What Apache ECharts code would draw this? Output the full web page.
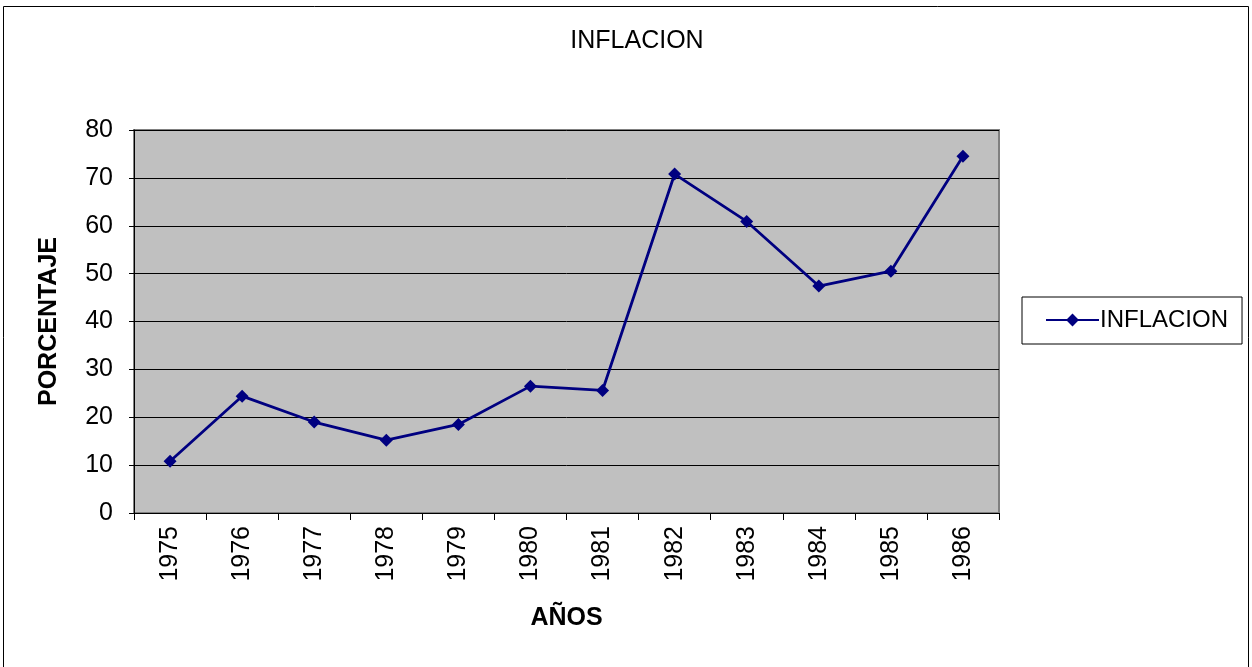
<!DOCTYPE html>
<html><head><meta charset="utf-8">
<script src="https://cdn.jsdelivr.net/npm/echarts@6/dist/echarts.min.js"></script>
<style>html,body{margin:0;padding:0;background:#fff}#c{width:1252px;height:667px}</style>
</head><body><div id="c"></div>
<script>
const years = ['1975','1976','1977','1978','1979','1980','1981','1982','1983','1984','1985','1986'];
const inflacion = [10.8, 24.4, 19.0, 15.2, 18.5, 26.5, 25.6, 70.8, 60.9, 47.4, 50.5, 74.5];
const seriesName = 'INFLACION';
const chartTitle = 'INFLACION';
const xName = 'AÑOS';
const yName = 'PORCENTAJE';

const font = '"Liberation Sans", Arial, sans-serif';
const chart = echarts.init(document.getElementById('c'));
chart.setOption({
  animation: false,
  backgroundColor: '#fff',
  graphic: [{type:'rect', shape:{x:3.5,y:6.5,width:1245,height:670}, style:{fill:'none', stroke:'#000', lineWidth:1}, silent:true}],
  title: {text: chartTitle, left: 632, textAlign: 'center', top: 24, textStyle:{fontFamily:font, fontSize:25, fontWeight:'normal', color:'#000'}},
  legend: {
    data:[seriesName], left: 1022, top: 297, orient:'vertical',
    borderColor:'#000', borderWidth:1, padding:[11, 14, 12, 23],
    itemWidth: 53, itemHeight: 16, itemGap: 0,
    textStyle:{fontFamily:font, fontSize:24, color:'#000', padding:[0,0,0,-4]}
  },
  grid: {left:134, top:130, width:865, height:383, show:true, backgroundColor:'#c0c0c0', borderColor:'#808080', borderWidth:2},
  xAxis: {
    type:'category', data: years, boundaryGap: true,
    name: xName, nameLocation:'middle', nameGap: 93,
    nameTextStyle:{fontFamily:font, fontSize:25, fontWeight:'bold', color:'#000'},
    axisLine:{lineStyle:{color:'#000', width:1}},
    axisTick:{show:true, length:7, alignWithLabel:false, lineStyle:{color:'#000'}},
    axisLabel:{rotate:90, fontFamily:font, fontSize:25, color:'#000', margin:13},
    splitLine:{show:false}
  },
  yAxis: {
    type:'value', min:0, max:80, interval:10,
    name: yName, nameLocation:'middle', nameGap: 72, nameRotate: 90,
    nameTextStyle:{fontFamily:font, fontSize:25, fontWeight:'bold', color:'#000'},
    axisLine:{show:true, lineStyle:{color:'#000', width:1}},
    axisTick:{show:true, length:5, lineStyle:{color:'#000'}},
    axisLabel:{fontFamily:font, fontSize:25, color:'#000', margin:21},
    splitLine:{show:true, lineStyle:{color:'#000', width:1}}
  },
  series: [{
    name: seriesName, type:'line', data: inflacion,
    symbol:'diamond', symbolSize: 13,
    lineStyle:{color:'#000080', width:2.8},
    itemStyle:{color:'#000080'}
  }]
});
</script></body></html>
